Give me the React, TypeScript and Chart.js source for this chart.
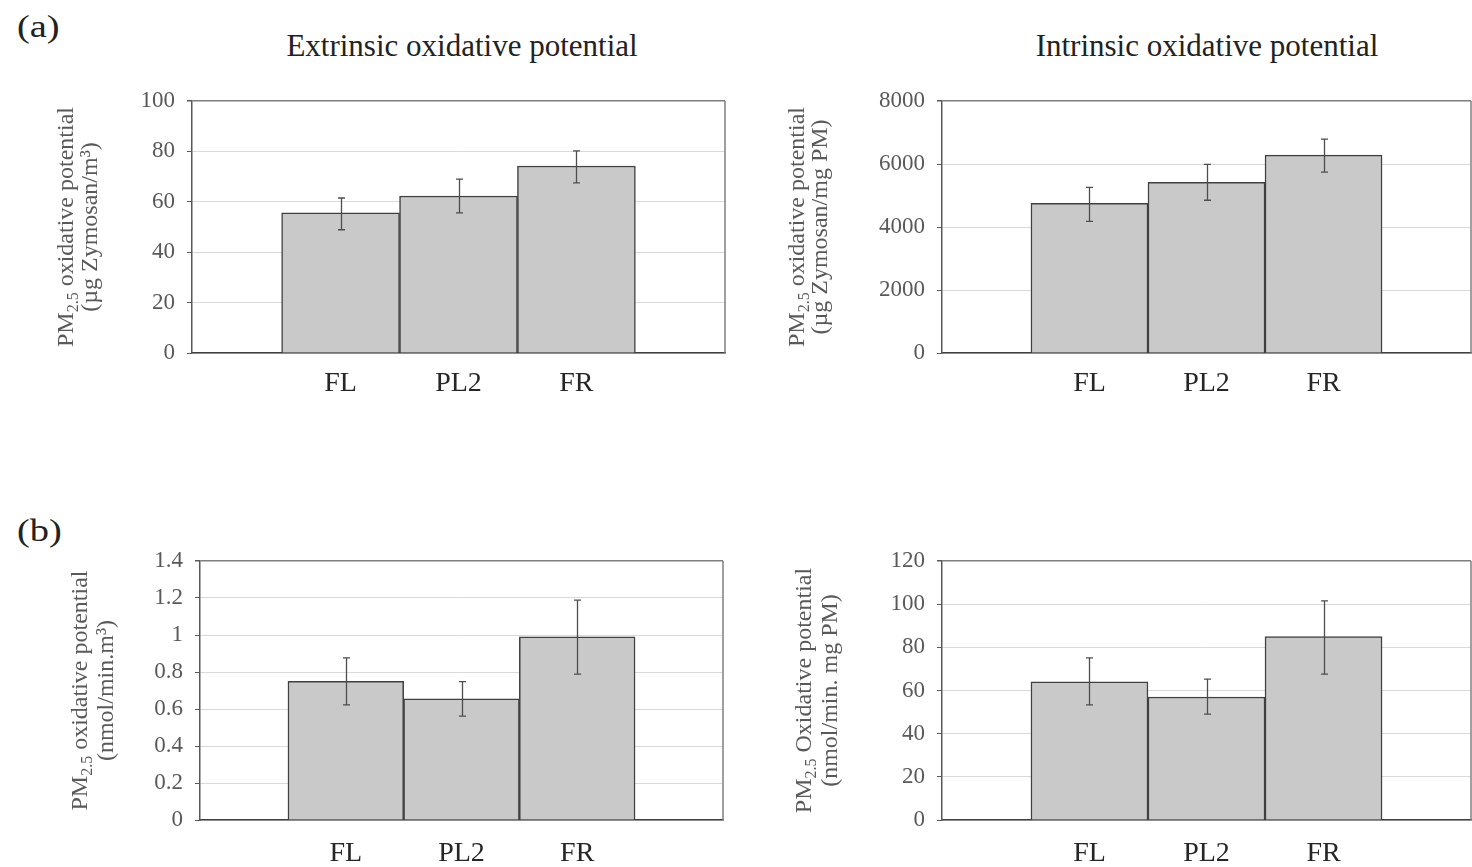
import React, { useEffect, useRef } from "react";
import { Chart, registerables } from "chart.js";

Chart.register(...registerables);

const FONT = "'Liberation Serif', 'Times New Roman', Times, serif";
Chart.defaults.font.family = FONT;

const categories = ["FL", "PL2", "FR"];

// (a) Extrinsic oxidative potential (µg Zymosan/m³)
const extrinsicMeans = [55.6, 62.3, 74.2];
const extrinsicLower = [48.9, 55.6, 67.5];
const extrinsicUpper = [61.5, 69.0, 80.2];
const extrinsicAxis = [0, 100, 20];

// (a) Intrinsic oxidative potential (µg Zymosan/mg PM)
const intrinsicMeans = [4750, 5420, 6280];
const intrinsicLower = [4180, 4850, 5740];
const intrinsicUpper = [5260, 5990, 6790];
const intrinsicAxis = [0, 8000, 2000];

// (b) per volume (nmol/min.m³)
const volumeMeans = [0.75, 0.655, 0.99];
const volumeLower = [0.622, 0.562, 0.789];
const volumeUpper = [0.876, 0.748, 1.189];
const volumeAxis = [0, 1.4, 0.2];

// (b) per mass (nmol/min. mg PM)
const massMeans = [64, 57, 85];
const massLower = [53.3, 49.1, 67.6];
const massUpper = [75.1, 65.3, 101.5];
const massAxis = [0, 120, 20];

const titleExtrinsic = "Extrinsic oxidative potential";
const titleIntrinsic = "Intrinsic oxidative potential";

// y-axis titles: first line is "PM" + subscript "2.5" + rest
const yTitleFirstRest = [" oxidative potential", " oxidative potential", " oxidative potential", " Oxidative potential"];
const yTitleSecond = ["(\u00b5g Zymosan/m\u00b3)", "(\u00b5g Zymosan/mg PM)", "(nmol/min.m\u00b3)", "(nmol/min. mg PM)"];

type PanelSpec = {
  left: number;
  top: number;
  width: number;
  height: number;
  area: { l: number; t: number; r: number; b: number };
  means: number[];
  lower: number[];
  upper: number[];
  axis: number[];
  titleRest: string;
  titleSecond: string;
  titleX: number[];
  xLabelPad: number;
};

function makeErrorBarPlugin(lower: number[], upper: number[]) {
  return {
    id: "errorBars",
    afterDatasetsDraw(chart: any) {
      const { ctx } = chart;
      const x = chart.scales.x;
      const y = chart.scales.y;
      ctx.save();
      ctx.strokeStyle = "#4d4d4d";
      ctx.lineWidth = 1.3;
      lower.forEach((lo, i) => {
        const px = Math.round(x.getPixelForValue(i)) + 0.5;
        const y1 = y.getPixelForValue(lo);
        const y2 = y.getPixelForValue(upper[i]);
        ctx.beginPath();
        ctx.moveTo(px, y1);
        ctx.lineTo(px, y2);
        ctx.moveTo(px - 3.5, y1);
        ctx.lineTo(px + 3.5, y1);
        ctx.moveTo(px - 3.5, y2);
        ctx.lineTo(px + 3.5, y2);
        ctx.stroke();
      });
      ctx.restore();
    },
  };
}

const framePlugin = {
  id: "frame",
  beforeDatasetsDraw(chart: any) {
    const { ctx, chartArea } = chart;
    ctx.save();
    ctx.strokeStyle = "#7f7f7f";
    ctx.lineWidth = 1.5;
    ctx.beginPath();
    ctx.moveTo(chartArea.right, chartArea.top);
    ctx.lineTo(chartArea.right, chartArea.bottom);
    ctx.stroke();
    ctx.restore();
  },
};

function makeYTitlePlugin(s: PanelSpec) {
  return {
    id: "yTitle",
    afterDraw(chart: any) {
      const { ctx, chartArea } = chart;
      const cy = (chartArea.top + chartArea.bottom) / 2;
      const main = `24px ${FONT}`;
      const sub = `16px ${FONT}`;
      const parts = [
        { t: "PM", f: main, dy: 0 },
        { t: "2.5", f: sub, dy: 7 },
        { t: s.titleRest, f: main, dy: 0 },
      ];
      ctx.save();
      ctx.fillStyle = "#595959";
      ctx.textBaseline = "middle";
      ctx.textAlign = "left";
      // line 1
      ctx.save();
      ctx.translate(s.titleX[0] - s.left, cy);
      ctx.rotate(-Math.PI / 2);
      let total = 0;
      parts.forEach((p) => {
        ctx.font = p.f;
        total += ctx.measureText(p.t).width;
      });
      let x = -total / 2;
      parts.forEach((p) => {
        ctx.font = p.f;
        ctx.fillText(p.t, x, p.dy);
        x += ctx.measureText(p.t).width;
      });
      ctx.restore();
      // line 2
      ctx.save();
      ctx.translate(s.titleX[1] - s.left, cy);
      ctx.rotate(-Math.PI / 2);
      ctx.font = main;
      ctx.textAlign = "center";
      ctx.fillText(s.titleSecond, 0, 0);
      ctx.restore();
      ctx.restore();
    },
  };
}

function BarPanel({ spec }: { spec: PanelSpec }) {
  const ref = useRef<HTMLCanvasElement>(null);
  useEffect(() => {
    const s = spec;
    const [yMin, yMax, yStep] = s.axis;
    const chart = new Chart(ref.current as HTMLCanvasElement, {
      type: "bar",
      data: {
        datasets: [
          {
            data: s.means.map((v, i) => ({ x: i, y: v })) as any,
            backgroundColor: "#c9c9c9",
            borderColor: "#404040",
            borderWidth: 1.5,
            barPercentage: 1,
            categoryPercentage: 1,
          },
        ],
      },
      options: {
        animation: false,
        responsive: false,
        devicePixelRatio: 1,
        layout: {
          padding: {
            left: 0,
            top: s.area.t - s.top,
            right: s.left + s.width - s.area.r,
            bottom: 0,
          },
        },
        plugins: {
          legend: { display: false },
          tooltip: { enabled: false },
        },
        scales: {
          x: {
            type: "linear",
            min: -1.26,
            max: 3.26,
            offset: false,
            grid: { display: false, offset: false },
            border: { display: true, color: "#404040", width: 1.5 },
            afterBuildTicks: (sc: any) => {
              sc.ticks = categories.map((_, i) => ({ value: i }));
            },
            afterFit: (sc: any) => {
              sc.height = s.top + s.height - s.area.b;
            },
            ticks: {
              callback: (v: any) => categories[v as number] ?? "",
              color: "#262626",
              font: { family: FONT, size: 28 },
              padding: s.xLabelPad,
              autoSkip: false,
              maxRotation: 0,
            },
          },
          y: {
            min: yMin,
            max: yMax,
            grid: {
              color: (c: any) =>
                c.tick && Math.abs(c.tick.value - yMax) < 1e-9 ? "#7f7f7f" : "#d9d9d9",
              lineWidth: (c: any) =>
                c.tick && Math.abs(c.tick.value - yMax) < 1e-9 ? 1.5 : 1,
              tickLength: 5,
              tickColor: "#595959",
              drawTicks: true,
            },
            border: { display: true, color: "#595959", width: 1.5 },
            ticks: {
              stepSize: yStep,
              color: "#595959",
              font: { family: FONT, size: 23 },
              padding: 12,
              callback: (v: any) => String(parseFloat(Number(v).toFixed(2))),
            },
            title: { display: false },
            afterFit: (sc: any) => {
              sc.width = s.area.l - s.left;
            },
          },
        },
      } as any,
      plugins: [makeErrorBarPlugin(s.lower, s.upper), framePlugin, makeYTitlePlugin(s)],
    });
    return () => chart.destroy();
  }, [spec]);
  return (
    <div
      style={{
        position: "absolute",
        left: spec.left,
        top: spec.top,
        width: spec.width,
        height: spec.height,
      }}
    >
      <canvas
        ref={ref}
        width={spec.width}
        height={spec.height}
        style={{ display: "block" }}
      />
    </div>
  );
}

// layout top padding (26) exceeds the y-axis label padding so the plot top is exact
const panels: PanelSpec[] = [
  {
    left: 20,
    top: 75,
    width: 720,
    height: 355,
    area: { l: 192, t: 101, r: 725, b: 353 },
    means: extrinsicMeans,
    lower: extrinsicLower,
    upper: extrinsicUpper,
    axis: extrinsicAxis,
    titleRest: yTitleFirstRest[0],
    titleSecond: yTitleSecond[0],
    titleX: [67, 91],
    xLabelPad: 6,
  },
  {
    left: 760,
    top: 75,
    width: 712,
    height: 355,
    area: { l: 942, t: 101, r: 1471, b: 353 },
    means: intrinsicMeans,
    lower: intrinsicLower,
    upper: intrinsicUpper,
    axis: intrinsicAxis,
    titleRest: yTitleFirstRest[1],
    titleSecond: yTitleSecond[1],
    titleX: [798, 821],
    xLabelPad: 6,
  },
  {
    left: 20,
    top: 535,
    width: 720,
    height: 332,
    area: { l: 200, t: 561, r: 723, b: 820 },
    means: volumeMeans,
    lower: volumeLower,
    upper: volumeUpper,
    axis: volumeAxis,
    titleRest: yTitleFirstRest[2],
    titleSecond: yTitleSecond[2],
    titleX: [81, 107],
    xLabelPad: 9,
  },
  {
    left: 760,
    top: 535,
    width: 712,
    height: 332,
    area: { l: 942, t: 561, r: 1471, b: 820 },
    means: massMeans,
    lower: massLower,
    upper: massUpper,
    axis: massAxis,
    titleRest: yTitleFirstRest[3],
    titleSecond: yTitleSecond[3],
    titleX: [805, 831],
    xLabelPad: 9,
  },
];

const textStyle: React.CSSProperties = {
  position: "absolute",
  fontFamily: FONT,
  color: "#222",
  whiteSpace: "nowrap",
  lineHeight: 1,
};

export default function App() {
  return (
    <div
      style={{
        position: "absolute",
        left: 0,
        top: 0,
        width: 1472,
        height: 867,
        background: "#fff",
        overflow: "hidden",
      }}
    >
      <div
        style={{
          ...textStyle,
          left: 17,
          top: 10,
          fontSize: 32,
          transform: "scaleX(1.2)",
          transformOrigin: "left center",
        }}
      >
        (a)
      </div>
      <div
        style={{
          ...textStyle,
          left: 17,
          top: 514,
          fontSize: 32,
          transform: "scaleX(1.2)",
          transformOrigin: "left center",
        }}
      >
        (b)
      </div>
      <div
        style={{
          ...textStyle,
          left: 262,
          width: 400,
          textAlign: "center",
          top: 30,
          fontSize: 31,
        }}
      >
        {titleExtrinsic}
      </div>
      <div
        style={{
          ...textStyle,
          left: 1007,
          width: 400,
          textAlign: "center",
          top: 30,
          fontSize: 31,
        }}
      >
        {titleIntrinsic}
      </div>
      {panels.map((p, i) => (
        <BarPanel key={i} spec={p} />
      ))}
    </div>
  );
}
